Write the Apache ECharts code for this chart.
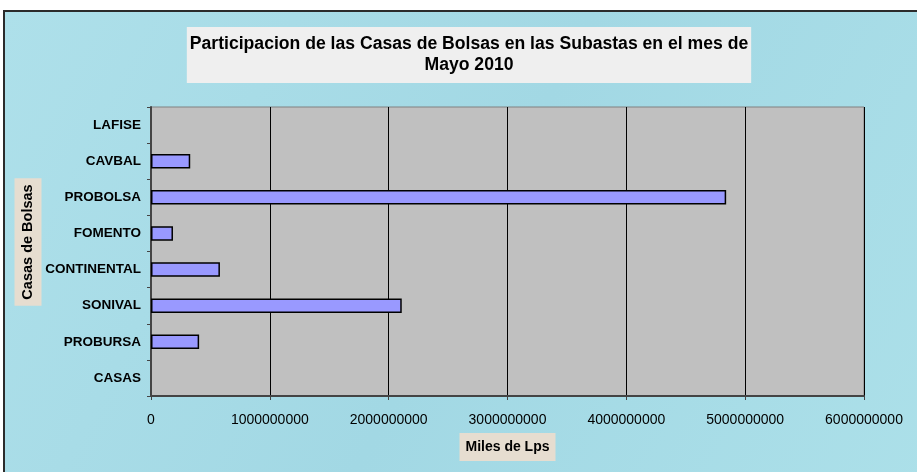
<!DOCTYPE html>
<html>
<head>
<meta charset="utf-8">
<script src="https://cdn.jsdelivr.net/npm/echarts@6/dist/echarts.min.js"></script>
<style>
  html, body { margin: 0; padding: 0; background: #fff; }
  #chart { width: 917px; height: 472px; }
</style>
</head>
<body>
<div id="chart"></div>
<script>
// casas de bolsa, bottom to top as in the picture
const casas = ['CASAS', 'PROBURSA', 'SONIVAL', 'CONTINENTAL', 'FOMENTO', 'PROBOLSA', 'CAVBAL', 'LAFISE'];
const montos = [0, 405000000, 2110000000, 580000000, 185000000, 4840000000, 330000000, 0];
const xMax = 6000000000;
const xStep = 1000000000;

const chart = echarts.init(document.getElementById('chart'));
const font = "'Liberation Sans', Arial, sans-serif";

// zero rows get no outline, like the original (no sliver at the axis)
const barData = montos.map(v => v === 0 ? { value: v, itemStyle: { borderWidth: 0 } } : v);

const option = {
    backgroundColor: '#ffffff',
    animation: false,
    graphic: [
        {
            // blue panel with the dark frame
            type: 'rect',
            silent: true,
            z: -10,
            shape: { x: 4, y: 11, width: 930, height: 480 },
            style: {
                fill: new echarts.graphic.LinearGradient(0, 0, 1, 1, [
                    { offset: 0, color: '#aee0ea' },
                    { offset: 0.5, color: '#a2d8e4' },
                    { offset: 1, color: '#ace0e9' }
                ]),
                stroke: '#2b2b2b',
                lineWidth: 2
            }
        },
        {
            // y axis title, placed by hand since it sits a bit above the grid middle
            type: 'text',
            x: 28,
            y: 242,
            rotation: Math.PI / 2,
            silent: true,
            style: {
                text: 'Casas de Bolsas',
                fontFamily: font,
                fontSize: 14.5,
                fontWeight: 'bold',
                fill: '#000',
                align: 'center',
                verticalAlign: 'middle',
                backgroundColor: '#e6ddd0',
                padding: [6, 6]
            }
        }
    ],
    title: {
        text: 'Participacion de las Casas de Bolsas en las Subastas en el mes de\nMayo 2010',
        left: 466,
        top: 27,
        textAlign: 'center',
        padding: [7, 3],
        backgroundColor: '#efefef',
        textStyle: {
            fontFamily: font,
            fontSize: 17.6,
            fontWeight: 'bold',
            color: '#000',
            lineHeight: 21
        }
    },
    grid: {
        left: 151,
        right: 53,
        top: 107,
        bottom: 76,
        show: true,
        backgroundColor: '#c0c0c0',
        borderColor: '#808080',
        borderWidth: 1
    },
    xAxis: {
        type: 'value',
        min: 0,
        max: xMax,
        interval: xStep,
        name: 'Miles de Lps',
        nameLocation: 'middle',
        nameGap: 37,
        nameTextStyle: {
            fontFamily: font,
            fontSize: 14,
            fontWeight: 'bold',
            color: '#000',
            backgroundColor: '#e6ddd0',
            padding: [7, 6]
        },
        axisLine: { show: true, lineStyle: { color: '#444', width: 2 } },
        axisTick: { show: true, length: 4, lineStyle: { color: '#444' } },
        axisLabel: {
            fontFamily: font,
            fontSize: 14,
            color: '#000',
            margin: 17,
            formatter: v => String(v)
        },
        splitLine: { show: true, lineStyle: { color: '#000', width: 1 } }
    },
    yAxis: {
        type: 'category',
        data: casas,
        axisLine: { show: true, lineStyle: { color: '#444', width: 2 } },
        axisTick: { show: true, length: 4, lineStyle: { color: '#444' } },
        axisLabel: {
            fontFamily: font,
            fontSize: 13.5,
            fontWeight: 'bold',
            color: '#000',
            margin: 10
        },
        splitLine: { show: false }
    },
    series: [
        {
            name: 'Miles de Lps',
            type: 'bar',
            data: barData,
            barWidth: '40%',
            itemStyle: {
                color: '#9999ff',
                borderColor: '#000',
                borderWidth: 1.5
            }
        }
    ]
};

chart.setOption(option);
</script>
</body>
</html>
